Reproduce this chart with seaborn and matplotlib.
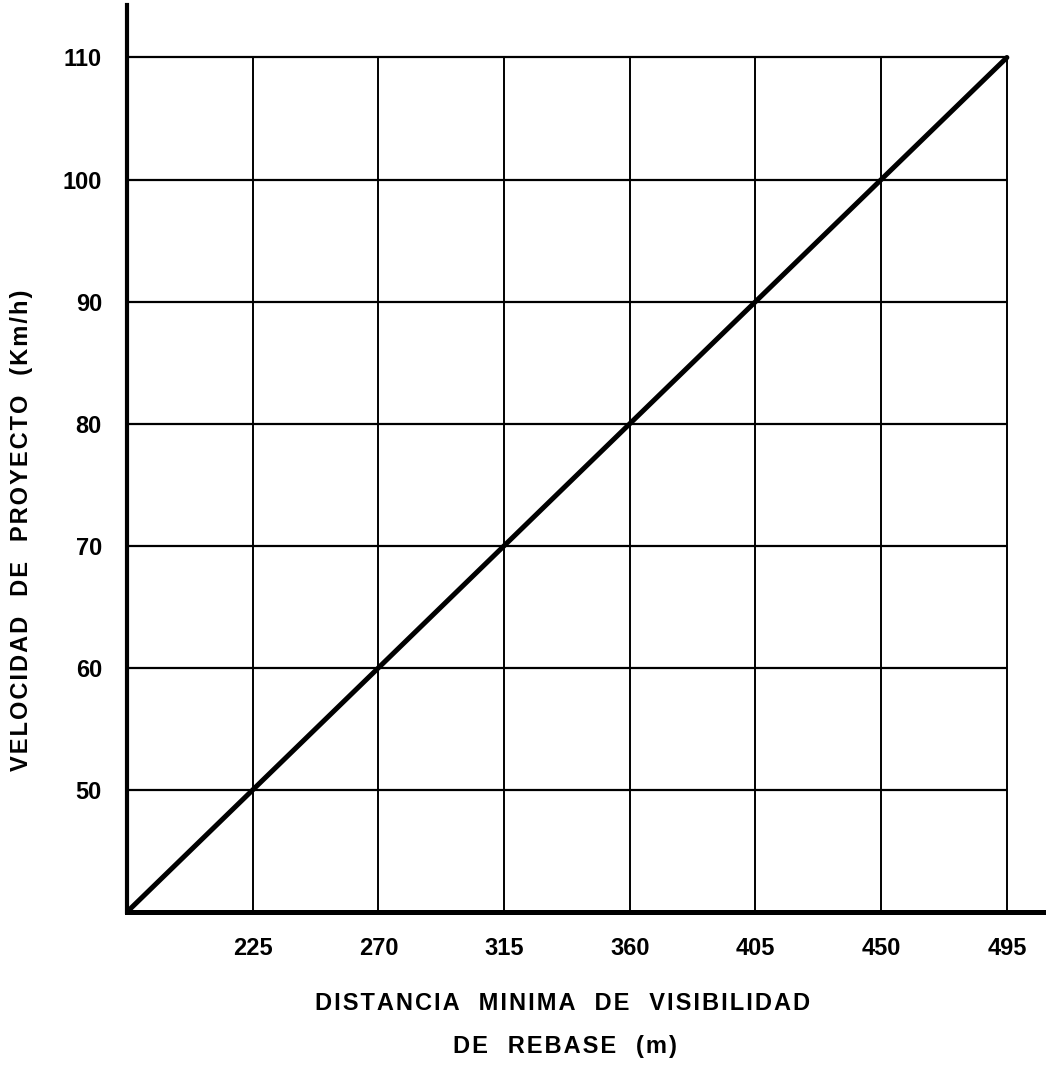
import numpy as np
import pandas as pd
import seaborn as sns
import matplotlib.pyplot as plt

# distancia minima de visibilidad de rebase vs velocidad de proyecto
distancia = [180, 225, 270, 315, 360, 405, 450, 495]
velocidad = [40, 50, 60, 70, 80, 90, 100, 110]
x_ticks = [225, 270, 315, 360, 405, 450, 495]
y_ticks = [50, 60, 70, 80, 90, 100, 110]

df = pd.DataFrame({'Distancia': distancia, 'Velocidad': velocidad})

sns.set_style("white")
plt.rcParams['font.family'] = ['Liberation Sans', 'DejaVu Sans']
plt.rcParams['font.weight'] = 'bold'
plt.rcParams['text.color'] = 'black'
plt.rcParams['xtick.color'] = 'black'
plt.rcParams['ytick.color'] = 'black'


def espaciado(texto):
    # letras un poco separadas, palabras con tres espacios
    return '   '.join('\u200a'.join(p) for p in texto.split(' '))


fig = plt.figure(figsize=(10.46, 10.89), dpi=100)
ax = fig.add_axes([127/1046, (1089-912)/1089, (1046-127)/1046, (912-5)/1089])

# reticula hasta 495 / 110
ax.hlines(y_ticks, 180, 495, color='black', linewidth=1.6, zorder=1)
ax.vlines(x_ticks, 40, 110, color='black', linewidth=1.4, zorder=1)

sns.lineplot(x='Distancia', y='Velocidad', data=df, color='black', linewidth=3.6, ax=ax, zorder=3)

ax.set_xlim(180, 509)
ax.set_ylim(40, 114.3)
ax.set_xticks(x_ticks)
ax.set_yticks(y_ticks)
ax.set_xticklabels([str(v) for v in x_ticks], fontsize=17, fontweight='bold')
ax.set_yticklabels([str(v) for v in y_ticks], fontsize=17, fontweight='bold')
ax.tick_params(axis='both', direction='out', length=6, width=1.4, color='black', pad=12)

for s in ['top', 'right']:
    ax.spines[s].set_visible(False)
ax.spines['left'].set_linewidth(3)
ax.spines['bottom'].set_linewidth(3.6)
ax.spines['left'].set_color('black')
ax.spines['bottom'].set_color('black')

ax.set_xlabel('')
ax.set_ylabel('')
fig.text(563/1046, 1 - 1003/1089, espaciado('DISTANCIA MINIMA DE VISIBILIDAD'),
         ha='center', va='center', fontsize=17, fontweight='bold')
fig.text(565/1046, 1 - 1047/1089, espaciado('DE REBASE (m)'),
         ha='center', va='center', fontsize=17, fontweight='bold')
fig.text(22/1046, 1 - 530/1089, espaciado('VELOCIDAD DE PROYECTO (Km/h)'),
         ha='center', va='center', rotation=90, fontsize=17, fontweight='bold')

plt.savefig('out.png', dpi=100)
